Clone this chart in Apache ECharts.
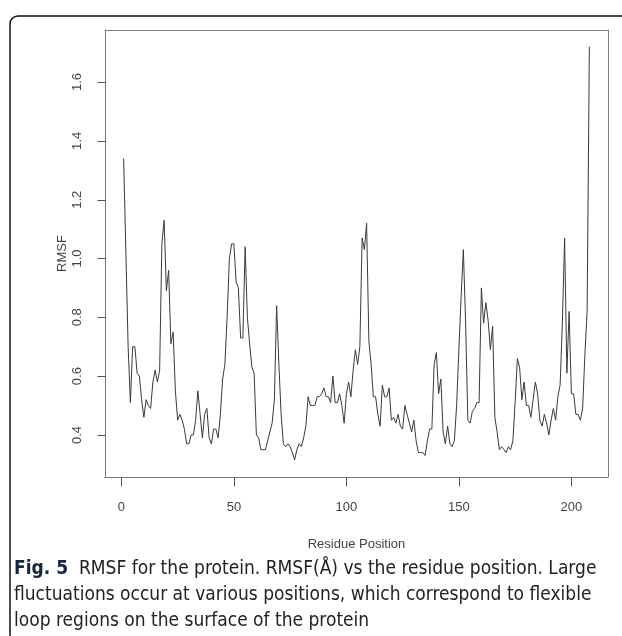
<!DOCTYPE html>
<html>
<head>
<meta charset="utf-8">
<script src="https://cdn.jsdelivr.net/npm/echarts@6/dist/echarts.min.js"></script>
<style>
  html, body { margin: 0; padding: 0; background: #fff; }
  #chart { width: 622px; height: 636px; }
</style>
</head>
<body>
<div id="chart"></div>
<script>
// RMSF per residue, residues 1..208
const rmsf = [
  1.34, 1.02, 0.70, 0.51, 0.70, 0.70, 0.61, 0.60, 0.52, 0.46,
  0.52, 0.50, 0.49, 0.58, 0.62, 0.58, 0.62, 1.05, 1.13, 0.89,
  0.96, 0.71, 0.75, 0.55, 0.45, 0.47, 0.45, 0.42, 0.37, 0.37,
  0.40, 0.40, 0.45, 0.55, 0.47, 0.39, 0.47, 0.49, 0.39, 0.37,
  0.42, 0.42, 0.39, 0.47, 0.59, 0.64, 0.80, 1.00, 1.05, 1.05,
  0.92, 0.90, 0.73, 0.73, 1.04, 0.80, 0.71, 0.63, 0.61, 0.40,
  0.39, 0.35, 0.35, 0.35, 0.38, 0.41, 0.44, 0.52, 0.84, 0.64,
  0.47, 0.37, 0.36, 0.37, 0.36, 0.34, 0.315, 0.35, 0.37, 0.36,
  0.39, 0.43, 0.53, 0.50, 0.50, 0.50, 0.53, 0.53, 0.54, 0.56,
  0.53, 0.53, 0.51, 0.60, 0.51, 0.51, 0.54, 0.50, 0.44, 0.54,
  0.58, 0.53, 0.62, 0.69, 0.64, 0.70, 1.07, 1.03, 1.12, 0.72,
  0.64, 0.53, 0.53, 0.47, 0.43, 0.57, 0.53, 0.53, 0.56, 0.45,
  0.46, 0.44, 0.47, 0.43, 0.42, 0.50, 0.47, 0.44, 0.41, 0.45,
  0.38, 0.34, 0.34, 0.34, 0.33, 0.38, 0.42, 0.42, 0.64, 0.68,
  0.54, 0.59, 0.41, 0.37, 0.43, 0.37, 0.36, 0.38, 0.50, 0.69,
  0.87, 1.03, 0.78, 0.45, 0.44, 0.48, 0.49, 0.51, 0.51, 0.90,
  0.78, 0.85, 0.79, 0.69, 0.77, 0.46, 0.41, 0.35, 0.36, 0.35,
  0.34, 0.36, 0.35, 0.38, 0.51, 0.66, 0.63, 0.52, 0.58, 0.50,
  0.50, 0.46, 0.52, 0.58, 0.54, 0.45, 0.43, 0.47, 0.44, 0.40,
  0.45, 0.49, 0.45, 0.53, 0.57, 0.78, 1.07, 0.61, 0.82, 0.54,
  0.54, 0.47, 0.47, 0.45, 0.49, 0.67, 0.82, 1.72
]
const residues = rmsf.map((_, i) => i + 1)

const xTicks = [0, 50, 100, 150, 200]
const yTicks = [0.4, 0.6, 0.8, 1.0, 1.2, 1.4, 1.6]

const xRange = [-7.28, 216.28]
const yRange = [0.257, 1.777]

const axisFont = 'Liberation Sans, Arial, sans-serif'
const captionFont = 'Liberation Sans Narrow, DejaVu Sans Condensed, sans-serif'
const frameGray = '#7a7a7a'
const tickGray = '#555'

// plain axis used only to close the box on the top / right sides
const boxSide = (extra) => Object.assign({
  type: 'value',
  axisLine: { show: true, onZero: false, lineStyle: { color: frameGray, width: 1 } },
  axisTick: { show: false },
  axisLabel: { show: false },
  splitLine: { show: false }
}, extra)

// outward tick marks, placed through the axis scales (axisTick would not draw here)
const tickSeries = (data, dx, dy) => ({
  type: 'custom',
  xAxisIndex: 0,
  yAxisIndex: 0,
  clip: false,
  silent: true,
  data,
  renderItem: (params, api) => {
    const p = api.coord([api.value(0), api.value(1)])
    const x = Math.round(p[0]) + 0.5
    const y = Math.round(p[1]) + 0.5
    return {
      type: 'line',
      shape: { x1: x, y1: y, x2: x + dx, y2: y + dy },
      style: { stroke: tickGray, lineWidth: 1 }
    }
  }
})

const chart = echarts.init(document.getElementById('chart'), null, { renderer: 'canvas' })

const option = {
  animation: false,
  backgroundColor: '#fff',
  grid: { left: 105, top: 30, right: 14, bottom: 159, show: false },
  xAxis: [
    {
      type: 'value',
      position: 'bottom',
      min: xRange[0],
      max: xRange[1],
      name: 'Residue Position',
      nameLocation: 'middle',
      nameGap: 61,
      nameTextStyle: { fontFamily: axisFont, fontSize: 13, color: '#444' },
      axisLine: { show: true, onZero: false, lineStyle: { color: frameGray, width: 1 } },
      axisTick: { show: false },
      axisLabel: {
        customValues: xTicks,
        margin: 24,
        fontFamily: axisFont,
        fontSize: 13,
        color: '#444'
      },
      splitLine: { show: false }
    },
    boxSide({ position: 'top', min: xRange[0], max: xRange[1] })
  ],
  yAxis: [
    {
      type: 'value',
      position: 'left',
      min: yRange[0],
      max: yRange[1],
      name: 'RMSF',
      nameLocation: 'middle',
      nameGap: 36,
      nameRotate: 90,
      nameMoveOverlap: false,
      nameTextStyle: { fontFamily: axisFont, fontSize: 13, color: '#444' },
      axisLine: { show: true, onZero: false, lineStyle: { color: frameGray, width: 1 } },
      axisTick: { show: false },
      axisLabel: {
        customValues: yTicks,
        rotate: 90,
        margin: 21,
        fontFamily: axisFont,
        fontSize: 13,
        color: '#444',
        formatter: v => v.toFixed(1)
      },
      splitLine: { show: false }
    },
    boxSide({ position: 'right', min: yRange[0], max: yRange[1] })
  ],
  series: [
    {
      type: 'line',
      xAxisIndex: 0,
      yAxisIndex: 0,
      data: residues.map((r, i) => [r, rmsf[i]]),
      showSymbol: false,
      lineStyle: { color: '#3a3a3a', width: 1 },
      silent: true
    },
    tickSeries(xTicks.map(v => [v, yRange[0]]), 0, 9),
    tickSeries(yTicks.map(v => [xRange[0], v]), -8, 0)
  ],
  graphic: [
    {
      type: 'rect',
      z: -10,
      shape: { x: 10, y: 16, width: 700, height: 700, r: 8 },
      style: { fill: 'transparent', stroke: '#111', lineWidth: 1.5 },
      silent: true
    },
    {
      type: 'text',
      left: 14,
      top: 556,
      style: {
        text: '{b|Fig. 5}  RMSF for the protein. RMSF(Å) vs the residue position. Large\n' +
              'fluctuations occur at various positions, which correspond to flexible\n' +
              'loop regions on the surface of the protein',
        font: '19px ' + captionFont,
        fill: '#222',
        lineHeight: 26,
        rich: {
          b: { fontWeight: 'bold', fontSize: 19, fontFamily: captionFont, fill: '#16263d' }
        }
      }
    }
  ]
}

chart.setOption(option)
window.addEventListener('resize', () => chart.resize())
</script>
</body>
</html>
